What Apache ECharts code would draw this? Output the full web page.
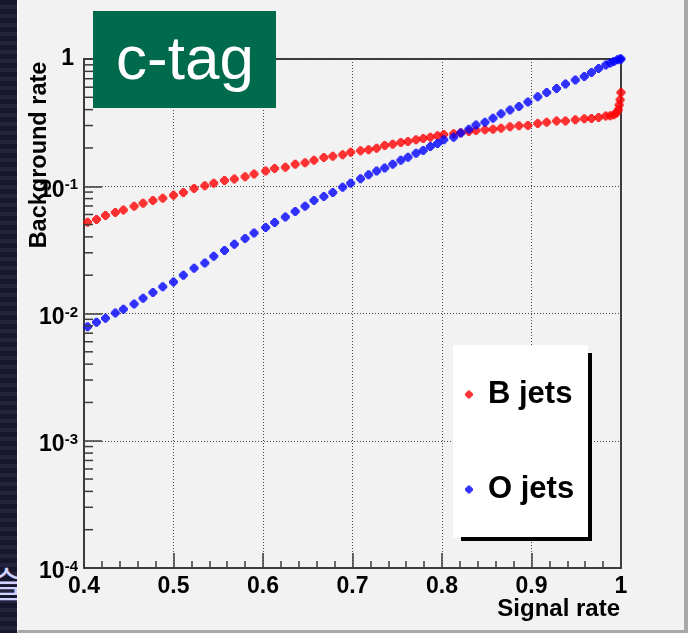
<!DOCTYPE html>
<html>
<head>
<meta charset="utf-8">
<script src="https://cdn.jsdelivr.net/npm/echarts@6/dist/echarts.min.js"></script>
<style>
  html, body { margin: 0; padding: 0; width: 688px; height: 633px; overflow: hidden; background: #1a1a33; }
  .band {
    position: absolute; left: 0; top: 0; width: 18px; height: 633px;
    background: repeating-linear-gradient(180deg, #16162c 0px, #16162c 5px, #23233e 5px, #23233e 9px);
  }
  .glyph {
    position: absolute; left: -10px; top: 564px; font-size: 36px; color: #d2d2ff;
    font-family: "Noto Sans CJK KR", sans-serif; line-height: 1;
  }
  .frame {
    position: absolute; left: 17px; top: 0; width: 666px; height: 630px;
    background: #f2f2f2; border-left: 1px solid #fbfbfb;
    border-right: 4px solid #a8a8a8; border-bottom: 3px solid #a8a8a8;
  }
  #chart { position: absolute; left: 0; top: 0; width: 688px; height: 633px; }
</style>
</head>
<body>
<div class="band"></div>
<div class="glyph">슬</div>
<div class="frame"></div>
<div id="chart"></div>
<script>
// values
const seriesNames = ["B jets", "O jets"];

const bJetsSignal = [
  0.404, 0.414, 0.424, 0.435, 0.444, 0.456, 0.466, 0.477, 0.488, 0.500, 0.511, 0.523, 0.535, 0.545, 0.557, 0.568, 0.580, 0.590,
  0.603, 0.613, 0.625, 0.636, 0.647, 0.657, 0.668, 0.678, 0.689, 0.698, 0.709, 0.718, 0.727, 0.736, 0.745, 0.754, 0.762, 0.771, 0.779, 0.787, 0.795, 0.802,
  0.813, 0.821, 0.830, 0.838, 0.848, 0.857, 0.866, 0.876, 0.886, 0.896, 0.907, 0.917, 0.928, 0.938, 0.949, 0.959, 0.967, 0.975, 0.983, 0.988, 0.992, 0.995, 0.997, 0.998, 0.999, 1.0
];
const bJetsBackground = [
  0.0522, 0.0547, 0.0588, 0.0621, 0.0652, 0.0697, 0.0736, 0.0771, 0.0805, 0.0851, 0.0892, 0.0959, 0.1007, 0.1057, 0.111, 0.1138, 0.119, 0.125,
  0.132, 0.138, 0.141, 0.149, 0.153, 0.160, 0.168, 0.172, 0.177, 0.185, 0.190, 0.194, 0.199, 0.209, 0.214, 0.221, 0.225, 0.232, 0.237, 0.243, 0.249, 0.255,
  0.258, 0.263, 0.269, 0.274, 0.278, 0.281, 0.286, 0.293, 0.299, 0.300, 0.311, 0.319, 0.325, 0.325, 0.333, 0.339, 0.341, 0.347, 0.356, 0.358, 0.365, 0.376, 0.399, 0.436, 0.478, 0.546
];

const oJetsSignal = [
  0.404, 0.414, 0.424, 0.435, 0.444, 0.456, 0.466, 0.477, 0.488, 0.500, 0.511, 0.523, 0.535, 0.545, 0.557, 0.568, 0.580, 0.590,
  0.603, 0.613, 0.625, 0.636, 0.647, 0.657, 0.668, 0.678, 0.689, 0.698, 0.709, 0.718, 0.727, 0.736, 0.745, 0.754, 0.762, 0.771, 0.779, 0.787, 0.795, 0.802,
  0.813, 0.821, 0.830, 0.838, 0.848, 0.857, 0.866, 0.876, 0.886, 0.896, 0.907, 0.917, 0.928, 0.938, 0.949, 0.959, 0.967, 0.975, 0.983, 0.988, 0.992, 0.996, 0.999, 1.0
];
const oJetsBackground = [
  0.00787, 0.00853, 0.00917, 0.0101, 0.0108, 0.0119, 0.0132, 0.0146, 0.0162, 0.0177, 0.0200, 0.0227, 0.0249, 0.0282, 0.0312, 0.0350, 0.0388, 0.0430,
  0.0473, 0.0518, 0.0574, 0.0632, 0.0697, 0.0771, 0.0830, 0.0892, 0.0984, 0.1057, 0.1143, 0.123, 0.132, 0.139, 0.149, 0.160, 0.169, 0.182, 0.191, 0.205, 0.217, 0.232,
  0.243, 0.262, 0.281, 0.303, 0.319, 0.343, 0.371, 0.397, 0.424, 0.459, 0.505, 0.546, 0.587, 0.636, 0.684, 0.730, 0.785, 0.843, 0.897, 0.930, 0.957, 0.987, 1.0, 1.0
];

// log-axis minor ticks (2..9 per decade)
const yMinorTicks = [
  2e-4, 3e-4, 4e-4, 5e-4, 6e-4, 7e-4, 8e-4, 9e-4,
  2e-3, 3e-3, 4e-3, 5e-3, 6e-3, 7e-3, 8e-3, 9e-3,
  2e-2, 3e-2, 4e-2, 5e-2, 6e-2, 7e-2, 8e-2, 9e-2,
  0.2, 0.3, 0.4, 0.5, 0.6, 0.7, 0.8, 0.9
];

const FONT = '"Liberation Sans", Arial, Helvetica, sans-serif';
const AXIS_COLOR = "#3c3c3c";
const MARKER = "path://M3 0H6V1H7V2H8V3H9V6H8V7H7V8H6V9H3V8H2V7H1V6H0V3H1V2H2V1H3Z";

const zip = (xs, ys) => xs.map((x, i) => [x, ys[i]]);

const chart = echarts.init(document.getElementById("chart"));

const option = {
  backgroundColor: "transparent",
  animation: false,
  grid: {
    left: 84, right: 67, top: 59, bottom: 65,
    show: true, borderColor: AXIS_COLOR, borderWidth: 2, backgroundColor: "transparent"
  },
  xAxis: {
    type: "value",
    min: 0.4, max: 1, interval: 0.1,
    axisLine: { show: true, lineStyle: { color: AXIS_COLOR, width: 2 } },
    axisTick: { show: true, inside: true, length: 15, lineStyle: { color: AXIS_COLOR, width: 1.5 } },
    minorTick: { show: true, splitNumber: 5, length: 7, lineStyle: { color: AXIS_COLOR, width: 1.5 } },
    splitLine: { show: true, lineStyle: { color: "#444", type: [1, 2], width: 1 } },
    axisLabel: {
      margin: 7, color: "#000", fontFamily: FONT, fontWeight: "bold", fontSize: 23,
      formatter: (v) => (Math.abs(v - 1) < 1e-9 ? "1" : v.toFixed(1))
    }
  },
  yAxis: {
    type: "log", logBase: 10,
    min: 0.0001, max: 1,
    axisLine: { show: true, lineStyle: { color: AXIS_COLOR, width: 2 } },
    axisTick: { show: true, inside: true, length: 18, lineStyle: { color: AXIS_COLOR, width: 1.5 } },
    splitLine: { show: true, lineStyle: { color: "#444", type: [1, 2], width: 1 } },
    axisLabel: {
      margin: 6,
      formatter: (v) => {
        const e = Math.round(Math.log10(v));
        return e === 0 ? "{one|1}" : "{b|10}{s|" + e + "}";
      },
      rich: {
        one: { fontFamily: FONT, fontWeight: "bold", fontSize: 23, color: "#000", padding: [0, 4, 0, 0] },
        b: { fontFamily: FONT, fontWeight: "bold", fontSize: 23, color: "#000", lineHeight: 23, padding: [8, 0, 0, 0] },
        s: { fontFamily: FONT, fontWeight: "bold", fontSize: 15, color: "#000", lineHeight: 15, verticalAlign: "top", padding: [3, 0, 0, 0] }
      }
    }
  },
  legend: {
    data: seriesNames,
    orient: "vertical",
    left: 465, top: 379,
    padding: 0,
    itemGap: 64,
    itemWidth: 8, itemHeight: 8,
    icon: MARKER,
    textStyle: { fontFamily: FONT, fontWeight: "bold", fontSize: 31, lineHeight: 31, color: "#000", padding: [0, 0, 0, 10] },
    z: 6
  },
  graphic: {
    elements: [
      // legend box shadow + box
      { type: "rect", z: 4, shape: { x: 461, y: 353, width: 131, height: 188 }, style: { fill: "#000" } },
      { type: "rect", z: 5, shape: { x: 453, y: 345, width: 135, height: 192 }, style: { fill: "#fff" } },
      // c-tag label
      { type: "rect", z: 10, shape: { x: 93, y: 11, width: 183, height: 97 }, style: { fill: "#006a4d" } },
      {
        type: "text", z: 11, x: 185, y: 62,
        style: { text: "c-tag", fill: "#fff", fontFamily: FONT, fontSize: 62, align: "center", verticalAlign: "middle" }
      },
      // axis titles
      {
        type: "text", z: 5, x: 40, y: 155, rotation: Math.PI / 2,
        style: { text: "Background rate", fill: "#000", fontFamily: FONT, fontWeight: "bold", fontSize: 23.5, align: "center", verticalAlign: "middle" }
      },
      {
        type: "text", z: 5, x: 620, y: 609,
        style: { text: "Signal rate", fill: "#000", fontFamily: FONT, fontWeight: "bold", fontSize: 24, align: "right", verticalAlign: "middle" }
      }
    ]
  },
  series: [
    {
      name: "yMinorTicks",
      type: "custom",
      silent: true,
      clip: false,
      z: 3,
      data: yMinorTicks.map((v) => [0.4, v]),
      renderItem: (params, api) => {
        const p = api.coord([api.value(0), api.value(1)]);
        return {
          type: "line",
          shape: { x1: p[0], y1: p[1], x2: p[0] + 9, y2: p[1] },
          style: { stroke: AXIS_COLOR, lineWidth: 1.5 }
        };
      }
    },
    {
      name: seriesNames[0],
      type: "scatter",
      symbol: MARKER,
      symbolSize: 9,
      itemStyle: { color: "#ff0000" },
      data: zip(bJetsSignal, bJetsBackground)
    },
    {
      name: seriesNames[1],
      type: "scatter",
      symbol: MARKER,
      symbolSize: 9,
      itemStyle: { color: "#0000ff" },
      data: zip(oJetsSignal, oJetsBackground)
    }
  ]
};

chart.setOption(option);
</script>
</body>
</html>
